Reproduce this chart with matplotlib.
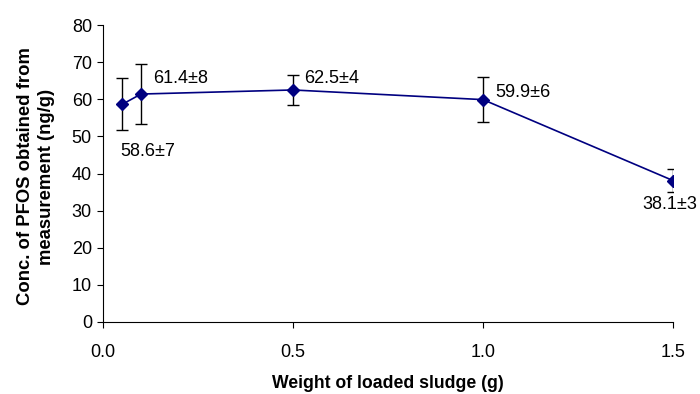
import matplotlib
matplotlib.use("Agg")
import matplotlib.pyplot as plt

plt.rcParams['font.family'] = ['Liberation Sans', 'DejaVu Sans']

# sludge weight vs measured PFOS
weight = [0.05, 0.1, 0.5, 1.0, 1.5]
conc = [58.6, 61.4, 62.5, 59.9, 38.1]
err = [7, 8, 4, 6, 3]
labels = ["58.6±7", "61.4±8", "62.5±4", "59.9±6", "38.1±3"]
# label offsets in points (dx, dy)
offsets = [(-1, -34), (8.6, 11.5), (8, 8.6), (8.6, 5), (-22, -17)]

fig = plt.figure(figsize=(7, 3.94), dpi=100)
ax = fig.add_axes([103/700, 1 - 322/394, 570/700, 297/394])

ax.errorbar(weight, conc, yerr=err, fmt='none', ecolor='black',
            elinewidth=1, capsize=4.5, capthick=1, zorder=2)
ax.plot(weight, conc, color='#000080', lw=1.2, marker='D', ms=6,
        mfc='#000080', mec='#000080', zorder=3)

for x, y, t, (dx, dy) in zip(weight, conc, labels, offsets):
    ax.annotate(t, (x, y), xytext=(dx, dy), textcoords='offset points',
                fontsize=13, ha='left', va='center', annotation_clip=False)

ax.set_xlim(0, 1.5)
ax.set_ylim(0, 80)
ax.set_xticks([0, 0.5, 1.0, 1.5])
ax.set_xticklabels(["0.0", "0.5", "1.0", "1.5"])
ax.set_yticks(range(0, 81, 10))
ax.tick_params(labelsize=13, length=4, direction='out')
ax.tick_params(axis='x', pad=12)
ax.tick_params(axis='y', pad=4)
ax.spines['top'].set_visible(False)
ax.spines['right'].set_visible(False)

ax.set_xlabel("Weight of loaded sludge (g)", fontsize=12.7, fontweight='bold')
ax.xaxis.set_label_coords(0.5, -0.178)
ax.set_ylabel("Conc. of PFOS obtained from\nmeasurement (ng/g)", fontsize=13.3,
              fontweight='bold', linespacing=1.3)
ax.yaxis.set_label_coords(-0.085, 0.49)

fig.savefig("out.png", dpi=100)
